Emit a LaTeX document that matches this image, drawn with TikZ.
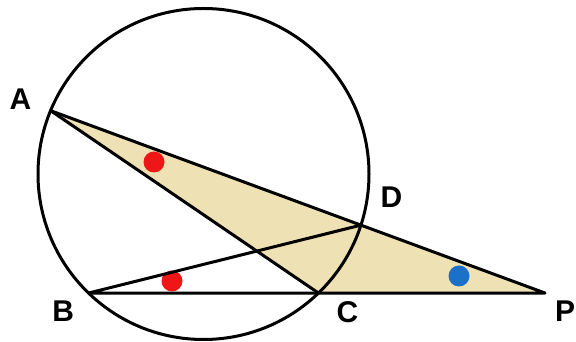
\documentclass[tikz,border=0pt]{standalone}
\usepackage{fontspec}
\setmainfont{Liberation Sans}
\usepackage{tikz}
\usetikzlibrary{calc}
\definecolor{beige}{RGB}{238,225,180}
\definecolor{dotred}{RGB}{238,22,22}
\definecolor{dotblue}{RGB}{28,112,200}
\tikzset{
  edge/.style={line width=3pt, line join=round, line cap=round},
  ptlabel/.style={font=\fontsize{30}{30}\selectfont\bfseries, inner sep=0pt},
  angmark/.style={circle, minimum size=21pt, inner sep=0pt},
}

\begin{document}
\begin{tikzpicture}[x=1pt, y=1pt]
  \useasboundingbox (0,0) rectangle (576,342);
  % circle and points on it
  \coordinate (O) at (203.5,168);
  \def\rad{165.5}
  \coordinate (A) at ($(O)+(157.5:\rad)$);
  \coordinate (B) at ($(O)+(226:\rad)$);
  \coordinate (C) at ($(O)+(314:\rad)$);
  \coordinate (D) at ($(O)+(-18:\rad)$);
  \coordinate (P) at (intersection of A--D and B--C);

  % shaded triangle
  \fill[fill=beige] (A) -- (C) -- (P) -- cycle;

  % angle marks
  \node[angmark, fill=dotred] (m1) at (154,180) {};
  \node[angmark, fill=dotred] (m2) at (172,61) {};
  \node[angmark, fill=dotblue] (m3) at (459,66) {};

  % lines
  \draw[edge] (O) circle (\rad);
  \draw[edge] (A) -- (P) -- (B) -- (D);
  \draw[edge] (A) -- (C);

  % labels
  \node[ptlabel] (lA) at (20.5,242.5) {A};
  \node[ptlabel] (lB) at (63.3,31) {B};
  \node[ptlabel] (lC) at (347.5,29.5) {C};
  \node[ptlabel] (lD) at (391.5,145) {D};
  \node[ptlabel] (lP) at (565,30.5) {P};
\end{tikzpicture}
\end{document}
